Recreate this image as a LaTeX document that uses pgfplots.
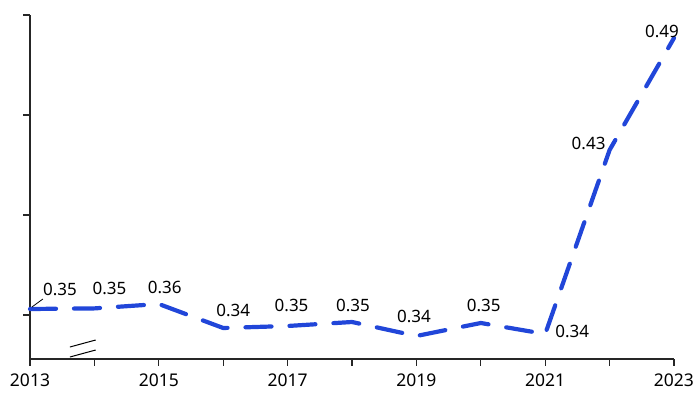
\documentclass[border=0pt]{standalone}
\usepackage{fontspec}
\setmainfont{Noto Sans}
\usepackage{pgfplots}
\usepackage{pgfplotstable}
\pgfplotsset{compat=1.18}
\definecolor{lineblue}{RGB}{33,70,217}
\pgfplotstableread{
x y lab dx dy
2013 0.3530 0.35 30 19.5
2014 0.3533 0.35 15 19.5
2015 0.3555 0.36 6 17
2016 0.3435 0.34 10 18
2017 0.3445 0.35 4 20.5
2018 0.3465 0.35 1 17
2019 0.3395 0.34 -2.5 20
2020 0.3460 0.35 3 18
2021 0.3405 0.34 27 2.5
2022 0.4325 0.43 -21 6.5
2023 0.4885 0.49 -12 7
}\datatable
\begin{document}
\fontsize{17}{20}\selectfont
\begin{tikzpicture}
\begin{axis}[name=ax, scale only axis, width=644pt, height=344pt,
 xmin=2013, xmax=2023, ymin=0.328, ymax=0.5,
 axis lines=left, axis line style={-, line width=1.3pt, color=black!85},
 xtick={2013,...,2023}, xticklabels={2013,,2015,,2017,,2019,,2021,,2023},
 ytick={0.35,0.40,0.45,0.50}, yticklabels={},
 tick align=outside, major tick length=7pt, tick style={line width=1.3pt, black!85},
 xticklabel style={font=\fontsize{17.5}{20}\selectfont, yshift=-2pt},
 clip=false]
\addplot[color=lineblue, line width=4.2pt, dash pattern=on 26pt off 18pt, line cap=round, line join=round,
  nodes near coords, point meta=explicit symbolic,
  visualization depends on={\thisrow{dx}\as\dx},
  visualization depends on={\thisrow{dy}\as\dy},
  every node near coord/.append style={anchor=center, xshift=\dx pt, yshift=\dy pt, text=black, font=\fontsize{17}{20}\selectfont, inner sep=0pt}]
table[x=x,y=y,meta=lab]{\datatable};
\draw[black, line width=0.8pt] (axis cs:2013.03,0.3540) -- (axis cs:2013.20,0.3580);
\draw[black, line width=1pt] (axis cs:2013.62,0.3340) -- (axis cs:2014.02,0.3375);
\draw[black, line width=1pt] (axis cs:2013.62,0.3290) -- (axis cs:2014.02,0.3325);
\end{axis}
\path ([xshift=-30pt,yshift=-44pt]ax.south west) rectangle ([xshift=26pt,yshift=15pt]ax.north east);
\end{tikzpicture}
\end{document}
